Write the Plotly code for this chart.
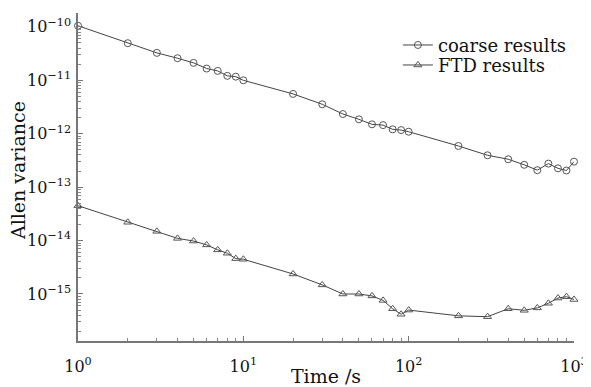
import plotly.graph_objects as go

time_s = [1, 2, 3, 4, 5, 6, 7, 8, 9, 10,
          20, 30, 40, 50, 60, 70, 80, 90, 100,
          200, 300, 400, 500, 600, 700, 800, 900, 1000]

coarse_results = [1.05e-10, 4.95e-11, 3.26e-11, 2.59e-11, 2.12e-11, 1.66e-11, 1.5e-11, 1.21e-11, 1.17e-11, 1.0e-11,
                  5.56e-12, 3.56e-12, 2.34e-12, 1.86e-12, 1.5e-12, 1.45e-12, 1.21e-12, 1.17e-12, 1.09e-12,
                  5.9e-13, 3.95e-13, 3.33e-13, 2.62e-13, 2.08e-13, 2.76e-13, 2.25e-13, 2.05e-13, 3.0e-13]

ftd_results = [4.5e-14, 2.2e-14, 1.49e-14, 1.1e-14, 9.8e-15, 8.3e-15, 6.7e-15, 5.8e-15, 4.6e-15, 4.47e-15,
               2.37e-15, 1.48e-15, 1.0e-15, 1.0e-15, 9.2e-16, 7.6e-16, 5.3e-16, 4.17e-16, 5.0e-16,
               3.9e-16, 3.76e-16, 5.3e-16, 4.95e-16, 5.5e-16, 6.7e-16, 8.4e-16, 8.9e-16, 7.9e-16]

x_tick_vals = [1, 10, 100, 1000]
x_tick_text = ["10<sup>0</sup>", "10<sup>1</sup>", "10<sup>2</sup>", "10<sup>3</sup>"]
y_tick_vals = [1e-15, 1e-14, 1e-13, 1e-12, 1e-11, 1e-10]
y_tick_text = ["10<sup>\u221215</sup>", "10<sup>\u221214</sup>", "10<sup>\u221213</sup>",
               "10<sup>\u221212</sup>", "10<sup>\u221211</sup>", "10<sup>\u221210</sup>"]

x_minor = [m * 10 ** e for e in range(0, 3) for m in range(2, 10)]
y_minor = [m * 10.0 ** e for e in range(-16, -9) for m in range(2, 10)]

x_title = "Time /s"
y_title = "Allen variance"

font_family = "DejaVu Serif"
txt_col = "#111111"
line_col = "#444444"
mk_col = "#555555"

fig = go.Figure()
fig.add_trace(go.Scatter(
    x=time_s, y=coarse_results, mode="lines+markers", name="coarse results",
    line=dict(color=line_col, width=1), cliponaxis=False, legend="legend",
    marker=dict(symbol="circle-open", size=7, color=mk_col, line=dict(width=1, color=mk_col)),
))
fig.add_trace(go.Scatter(
    x=time_s, y=ftd_results, mode="lines+markers", name="FTD results",
    line=dict(color=line_col, width=1), cliponaxis=False, legend="legend2",
    marker=dict(symbol="triangle-up-open", size=7, color=mk_col, line=dict(width=1, color=mk_col)),
))

axis_common = dict(
    type="log", automargin=False,
    showgrid=False, zeroline=False,
    showline=True, linecolor="#777777", linewidth=1.5,
    ticks="inside", ticklen=5, tickcolor="#777777", tickwidth=1,
    tickmode="array",
    tickfont=dict(family=font_family, size=16, color=txt_col),
)

fig.update_xaxes(**axis_common, range=[0, 3], tickvals=x_tick_vals, ticktext=x_tick_text,
                 ticklabelstandoff=10,
                 minor=dict(ticks="inside", ticklen=3, tickcolor="#888888", tickmode="array", tickvals=x_minor),
                 title=dict(text=x_title, font=dict(family=font_family, size=19, color=txt_col), standoff=0))
fig.update_yaxes(**axis_common, range=[-15.88, -9.74], tickvals=y_tick_vals, ticktext=y_tick_text,
                 ticklabelstandoff=2,
                 minor=dict(ticks="inside", ticklen=3, tickcolor="#888888", tickmode="array", tickvals=y_minor))

fig.add_annotation(text=y_title, xref="paper", yref="paper", x=-0.121, y=0.521,
                   xanchor="center", yanchor="middle", textangle=-90, showarrow=False,
                   font=dict(family=font_family, size=19, color=txt_col))

leg_common = dict(xanchor="left", yanchor="top", bgcolor="rgba(0,0,0,0)", itemwidth=30,
                  font=dict(family=font_family, size=18, color=txt_col))

fig.update_layout(
    width=583, height=379,
    margin=dict(l=70, r=17, t=5, b=46, autoexpand=False),
    paper_bgcolor="white", plot_bgcolor="white",
    font=dict(family=font_family, color=txt_col),
    showlegend=True,
    legend=dict(x=0.645, y=0.958, **leg_common),
    legend2=dict(x=0.645, y=0.897, **leg_common),
)

fig.write_html("out.html")
